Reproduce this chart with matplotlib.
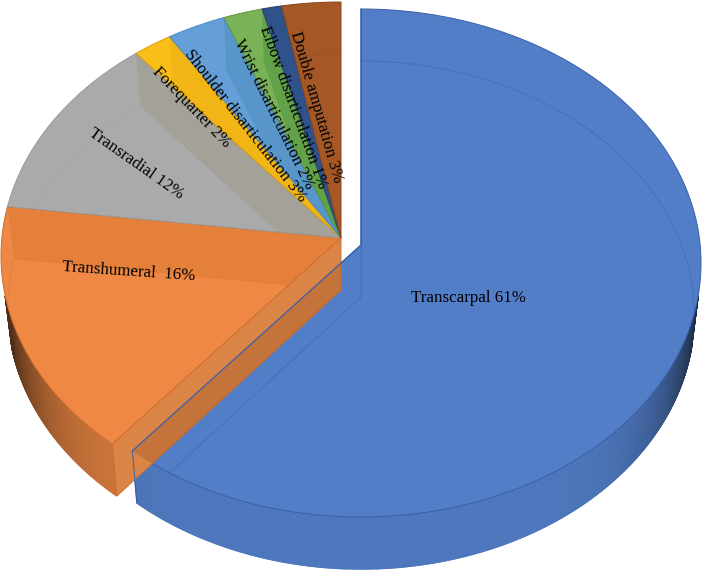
import matplotlib.pyplot as plt
import numpy as np
from matplotlib.colors import to_rgb

categories = [
    "Transcarpal", "Transhumeral", "Transradial", "Forequarter",
    "Shoulder disarticulation", "Wrist disarticulation",
    "Elbow disarticulation", "Double amputation",
]
shares = [61, 16, 12, 2, 3, 2, 1, 3]
colors = ["#527ec8", "#ee8844", "#aaaaaa", "#fabe19",
          "#649fd7", "#7ab258", "#30528a", "#a55826"]
edge_colors = ["#3a5fa8", "#d0702c", "#9a9a9a", "#d8a010",
               "#4f8cc4", "#5f9a44", "#253f6c", "#8a4518"]
# tint of the wall seen through a slice, at that slice's end edge
wall_tints = [None, "#b85a10", "#8f7f50", "#c08a00", "#3f7fa8", "#3f8a30", None, None]
wall_alphas = [0, 0.16, 0.2, 0.15, 0.3, 0.4, 0, 0]

# label text, centre in pixels, rotation
label_text = ["Transcarpal 61%", "Transhumeral  16%", "Transradial 12%", "Forequarter 2%",
              "Shoulder disarticulation 3%", "Wrist disarticulation 2%",
              "Elbow disarticulation 1%", "Double amputation 3%"]
label_x = [468, 129, 136, 191, 245, 274, 293, 316]
label_y = [298, 272, 164, 107, 126, 114, 107, 107]
label_rot = [0, -4, -35, -46, -52, -64, -70, -74]

A, B = 340, 254        # ellipse half axes of the top face
CX, CY = 341, 256      # ellipse centre, unexploded slices
EXPLODE = (20, 7)      # first slice offset
E = 18 / B             # perspective shift of the pie centre
DEPTH = 52
SHRINK = 0.98          # bottom face is slightly smaller


def rim(theta, cx, cy, lower=False):
    """Project pie angles (clockwise from north) on the perspective ellipse."""
    u, v = np.sin(theta), np.cos(theta)
    d = 1 + E * v
    x = u * np.sqrt(1 - E**2) / d
    y = (v + E) / d
    if lower:
        return cx + x * A * SHRINK, cy - y * B + DEPTH
    return cx + x * A, cy - y * B


def apex(cx, cy, lower=False):
    return cx, cy - E * B + (DEPTH if lower else 0)


fig = plt.figure(figsize=(7.05, 5.73), dpi=100)
ax = fig.add_axes([0, 0, 1, 1])
ax.set_xlim(0, 705)
ax.set_ylim(573, 0)
ax.axis("off")

edges = np.cumsum([0] + shares) / sum(shares) * 2 * np.pi

slices = []
for i in range(len(shares)):
    cx = CX + (EXPLODE[0] if i == 0 else 0)
    cy = CY + (EXPLODE[1] if i == 0 else 0)
    theta = np.linspace(edges[i], edges[i + 1], max(int(shares[i] * 25), 12))
    slices.append((i, cx, cy, theta))

for i, cx, cy, theta in slices:
    base = np.array(to_rgb(colors[i]))
    ec = edge_colors[i]
    x0, y0 = apex(cx, cy)
    x1, y1 = apex(cx, cy, lower=True)
    tx, ty = rim(theta, cx, cy)
    bx, by = rim(theta, cx, cy, lower=True)

    # outer side, shaded towards the left and right ends
    for j in range(len(theta) - 1):
        if ty[j] < CY + 40 and ty[j + 1] < CY + 40:
            continue
        um = abs(np.sin((theta[j] + theta[j + 1]) / 2))
        shade = base * (1 - 0.75 * um**7) * (0.95 if i == 0 else 0.88)
        ax.fill([tx[j], tx[j + 1], bx[j + 1], bx[j]],
                [ty[j], ty[j + 1], by[j + 1], by[j]],
                facecolor=shade, edgecolor=shade, lw=1.0, zorder=1)

    # top face, opaque; the faces below show only as faint lines and tints
    top = ax.fill(np.r_[x0, tx], np.r_[y0, ty], facecolor=base, edgecolor=ec, lw=0.7,
                  zorder=2 if i == 0 else 3)[0]

    # lower outline seen through the top
    low = ax.plot(np.r_[x1, bx, x1], np.r_[y1, by, y1], color=ec, lw=0.6,
                  alpha=0.55 if i == 0 else 0.3, zorder=3.5 if i else 2.5)[0]
    low.set_clip_path(top)

    # wall at the end edge, seen through the slice itself
    if wall_tints[i]:
        wall = ax.fill([x0, tx[-1], bx[-1], x1], [y0, ty[-1], by[-1], y1],
                       facecolor=wall_tints[i], alpha=wall_alphas[i], edgecolor="none",
                       zorder=3.2)[0]
        wall.set_clip_path(top)

# front wall of the orange slice sits over the blue slice
i, cx, cy, theta = slices[1]
tx, ty = rim(theta, cx, cy)
bx, by = rim(theta, cx, cy, lower=True)
x0, y0 = apex(cx, cy)
x1, y1 = apex(cx, cy, lower=True)
front = ax.fill([x0, tx[0], bx[0], x1], [y0, ty[0], by[0], y1], facecolor="#da8446",
                edgecolor=edge_colors[1], lw=0.7, zorder=4)[0]

# the blue face darkens that wall where they overlap, blue edge line on top
i, cx, cy, theta = slices[0]
tx, ty = rim(theta, cx, cy)
bx, by = rim(theta, cx, cy, lower=True)
x0, y0 = apex(cx, cy)
x1, y1 = apex(cx, cy, lower=True)
tint = ax.fill(np.r_[x0, tx], np.r_[y0, ty], facecolor="#703810", alpha=0.2,
               edgecolor="none", zorder=4.5)[0]
tint.set_clip_path(front)
ax.plot([tx[-1], x0, tx[0]], [ty[-1], y0, ty[0]], color=edge_colors[0], lw=0.9, zorder=5)
ax.plot([tx[-1], bx[-1]], [ty[-1], by[-1]], color=edge_colors[0], lw=0.7, zorder=5)

for txt, lx, ly, rot in zip(label_text, label_x, label_y, label_rot):
    ax.text(lx, ly, txt, rotation=rot, rotation_mode="anchor", ha="center", va="center",
            family="Liberation Serif", fontsize=12.2, color="black", zorder=6)

fig.savefig("out.png", dpi=100)
